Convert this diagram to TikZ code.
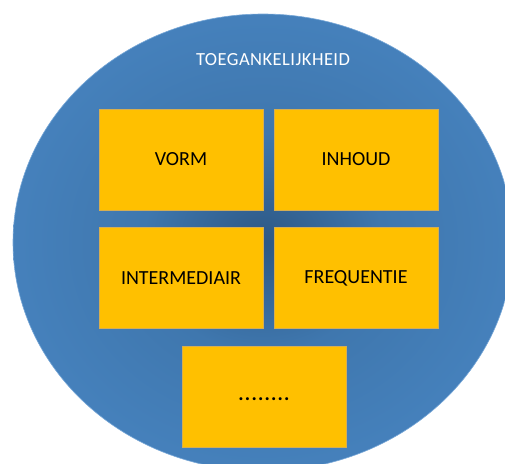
\documentclass[tikz,border=0pt]{standalone}
\usepackage{fontspec}
\setmainfont{Carlito}
\definecolor{bluelight}{HTML}{4B8AC9}
\definecolor{bluemid}{HTML}{3F77AE}
\definecolor{bluedark}{HTML}{2D5885}
\definecolor{boxgold}{HTML}{FFC000}
\definecolor{boxedge}{HTML}{D6AE52}
\pgfdeclareradialshading{blueglow}{\pgfpoint{0bp}{0bp}}{color(0bp)=(bluedark); color(12bp)=(bluemid); color(30bp)=(bluelight!70!bluemid); color(46bp)=(bluelight); color(72bp)=(bluelight)}
\tikzset{
  goldbox/.style={fill=boxgold, draw=boxedge, line width=0.5pt, minimum width=164pt, minimum height=101pt, inner sep=0pt, font=\fontsize{20}{24}\selectfont, text=black},
  titletext/.style={text=white, inner sep=0pt, font=\fontsize{18.5}{21}\selectfont\addfontfeature{LetterSpace=2.5}}
}
\begin{document}
\begin{tikzpicture}[x=1pt,y=-1pt]
\useasboundingbox (0,0) rectangle (505,463);
\begin{scope}
\clip (0,0) rectangle (505,463);
\path[shading=blueglow, draw=bluelight!75!white, line width=0.6pt] (263,242.5) ellipse [x radius=250, y radius=228.5];
\end{scope}
\node[titletext] (title) at (273,60) {TOEGANKELIJKHEID};
\node[goldbox] (vorm) at (181,159.5) {\raisebox{-2.5pt}{VORM}};
\node[goldbox] (inhoud) at (356,159.5) {\raisebox{-0.5pt}{INHOUD}};
\node[goldbox] (inter) at (181,278) {\raisebox{-1pt}{INTERMEDIAIR}};
\node[goldbox] (freq) at (356,278) {\raisebox{-1pt}{FREQUENTIE}};
\node[goldbox] (dots) at (264,396.5) {\raisebox{-7.5pt}{\bfseries\addfontfeature{LetterSpace=6}........}};
\end{tikzpicture}
\end{document}
